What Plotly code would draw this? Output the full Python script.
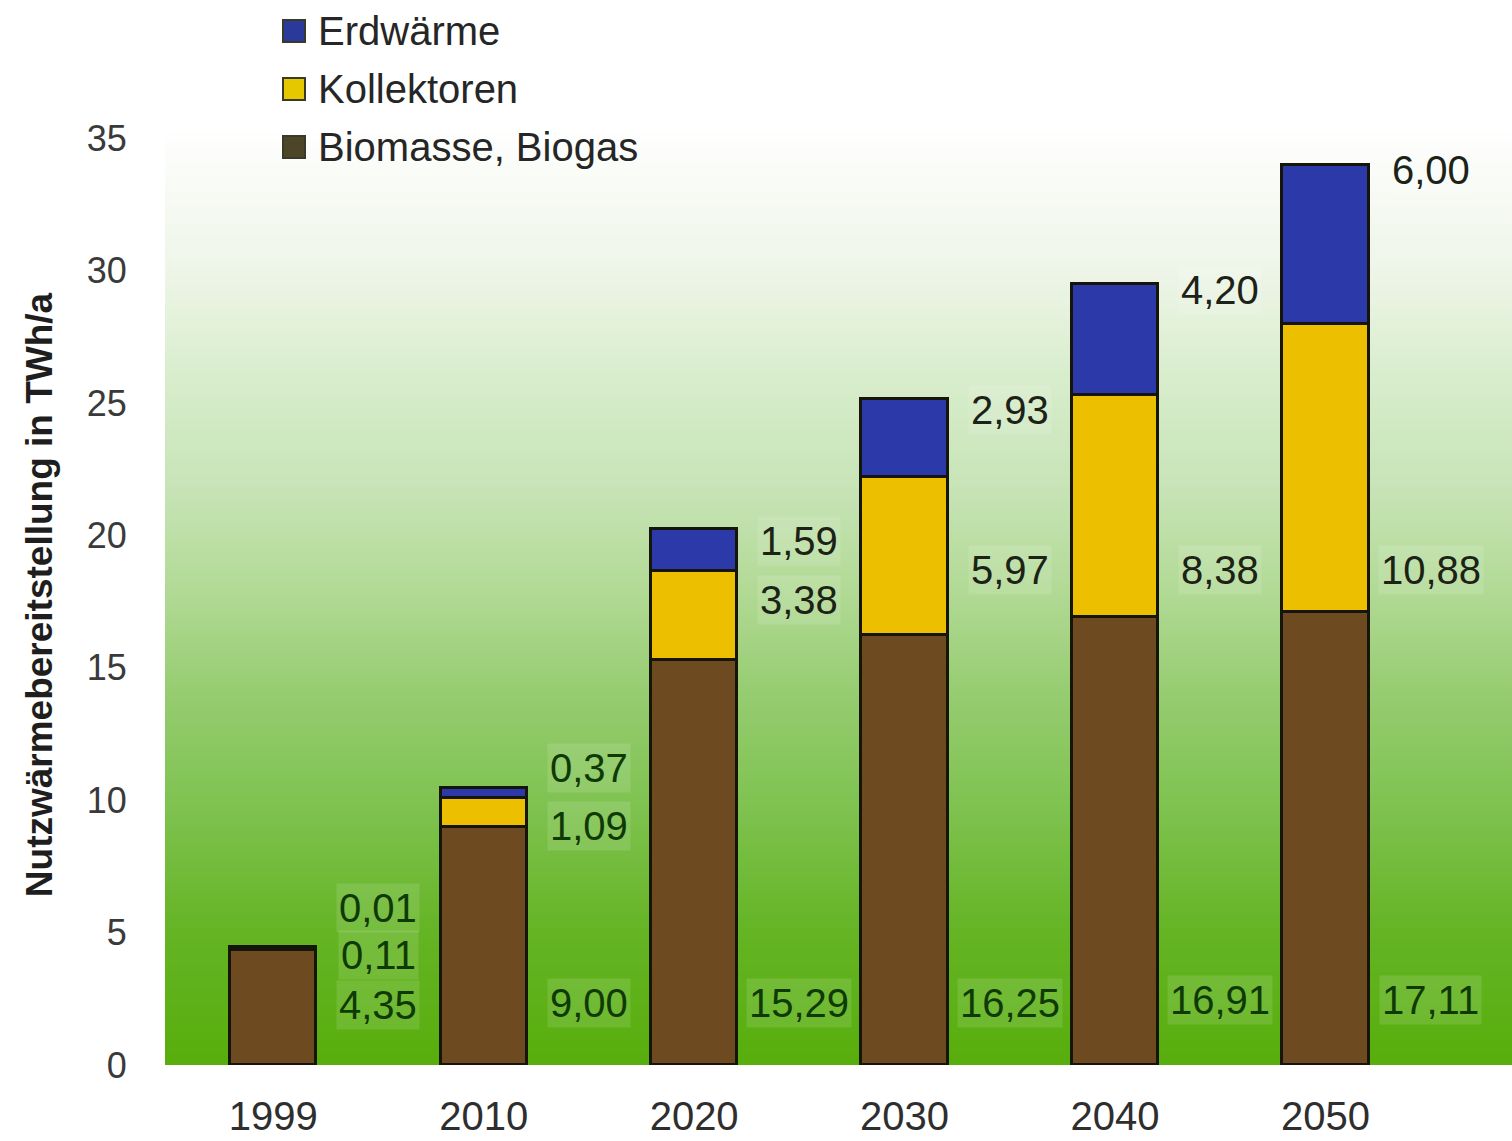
import numpy as np
import plotly.graph_objects as go

# ---- data -------------------------------------------------------------
years = ["1999", "2010", "2020", "2030", "2040", "2050"]
biomasse = [4.35, 9.00, 15.29, 16.25, 16.91, 17.11]
kollektoren = [0.11, 1.09, 3.38, 5.97, 8.38, 10.88]
erdwaerme = [0.01, 0.37, 1.59, 2.93, 4.20, 6.00]
y_ticks = [0, 5, 10, 15, 20, 25, 30, 35]

series_names = ["Biomasse, Biogas", "Kollektoren", "Erdwärme"]
series_values = [biomasse, kollektoren, erdwaerme]
series_colors = ["#6d4a1f", "#ecbf00", "#2b3aa8"]

# vertical placement (axis units) of the value labels next to each bar
label_y = {
    "Biomasse, Biogas": [2.27, 2.34, 2.34, 2.34, 2.45, 2.45],
    "Kollektoren": [4.15, 9.02, 17.56, 18.69, 18.69, 18.69],
    "Erdwärme": [5.93, 11.21, 19.78, 24.73, 29.26, 33.79],
}

# ---- geometry ---------------------------------------------------------
W, H = 1512, 1141
L, R, T, B = 165, 0, 125, 76
plot_w, plot_h = W - L - R, H - T - B
x_range = [-0.514, 5.886]
y_range = [0, 35.5]
xpos = list(range(len(years)))
FONT = "Liberation Sans, Arial, sans-serif"


def px_x(px):
    return (px - L) / plot_w


def px_y(py):
    return (H - B - py) / plot_h


fig = go.Figure()

# white-to-green gradient behind the bars
gy = np.linspace(y_range[0], y_range[1], 80)
grad_stops = [
    (0.0, "#58ae0c"), (5.0, "#64b424"), (10.0, "#80c352"), (14.0, "#96cc70"),
    (18.0, "#b2da96"), (22.0, "#c8e4b8"), (26.0, "#d8edcc"), (30.0, "#eef5e8"),
    (35.5, "#ffffff"),
]
fig.add_trace(go.Heatmap(
    x=[x_range[0], x_range[1]],
    y=gy,
    z=[[v, v] for v in gy],
    zmin=y_range[0], zmax=y_range[1],
    colorscale=[[v / y_range[1], c] for v, c in grad_stops],
    zsmooth="best", showscale=False, hoverinfo="skip",
))

# stacked bars
for name, vals, color in zip(series_names, series_values, series_colors):
    fig.add_trace(go.Bar(
        x=xpos, y=vals, name=name, width=0.41,
        marker=dict(color=color, line=dict(color="#15150a", width=3)),
        showlegend=False,
    ))

annotations = []
# value labels to the right of each bar
for name, vals in zip(series_names, series_values):
    for i, v in enumerate(vals):
        yy = label_y[name][i]
        annotations.append(dict(
            x=xpos[i] + 0.5, y=yy, xref="x", yref="y",
            text=f"{v:.2f}".replace(".", ","),
            showarrow=False, xanchor="center", yanchor="middle",
            font=dict(family=FONT, size=40,
                      color="#0f3a06" if yy < 15 else "#1c2216"),
            bgcolor="rgba(255,255,255,0.12)", borderpad=2,
        ))

# legend: swatches with labels, top entry first
shapes = []
legend_rows = [("Erdwärme", "#2b3a9a", 31), ("Kollektoren", "#e6c800", 89),
               ("Biomasse, Biogas", "#4d4527", 147)]
for text, color, cy in legend_rows:
    shapes.append(dict(
        type="rect", xref="paper", yref="paper",
        x0=px_x(283), x1=px_x(305), y0=px_y(cy + 11), y1=px_y(cy - 11),
        fillcolor=color, line=dict(color="#3a3a2a", width=2), layer="above",
    ))
    annotations.append(dict(
        x=px_x(316), y=px_y(cy), xref="paper", yref="paper", text=text,
        showarrow=False, xanchor="left", yanchor="middle",
        font=dict(family=FONT, size=40, color="#262626"),
    ))

fig.update_layout(
    width=W, height=H,
    margin=dict(l=L, r=R, t=T, b=B, autoexpand=False),
    paper_bgcolor="white", plot_bgcolor="white",
    barmode="stack", bargap=0,
    annotations=annotations, shapes=shapes,
    xaxis=dict(
        range=x_range, tickvals=xpos, ticktext=years,
        tickfont=dict(family=FONT, size=40, color="#2e2e2e"),
        ticks="outside", ticklen=16, tickcolor="rgba(0,0,0,0)",
        showgrid=False, zeroline=False, showline=False, fixedrange=True,
    ),
    yaxis=dict(
        range=y_range, tickvals=y_ticks,
        tickfont=dict(family=FONT, size=36, color="#3a3a3a"),
        ticks="outside", ticklen=30, tickcolor="rgba(0,0,0,0)",
        showgrid=False, zeroline=False, showline=False, fixedrange=True,
        title=dict(text="Nutzwärmebereitstellung in TWh/a",
                   font=dict(family=FONT, size=37, color="#1e1e1e", weight="bold"),
                   standoff=22),
    ),
)

fig.write_html("out.html")
